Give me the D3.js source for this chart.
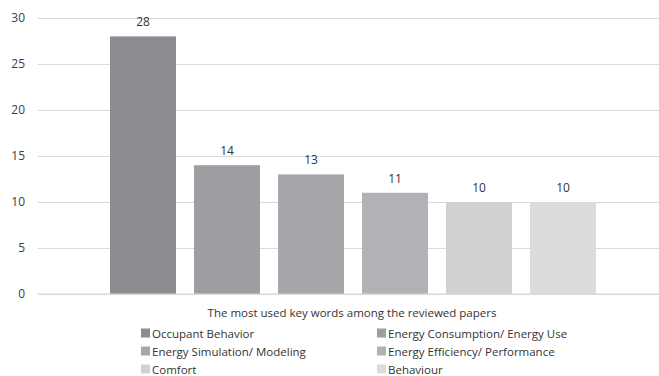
<!DOCTYPE html>
<html>
<head>
<meta charset="utf-8">
<script src="https://cdn.jsdelivr.net/npm/d3@7"></script>
<style>
  body { margin: 0; background: #fff; }
  text { font-family: "Open Sans", "Noto Sans", sans-serif; fill: #404040; }
</style>
</head>
<body>
<div id="chart"></div>
<script>
// * Data
var keywords = ["Occupant Behavior", "Energy Consumption/ Energy Use", "Energy Simulation/ Modeling",
  "Energy Efficiency/ Performance", "Comfort", "Behaviour"];
var counts = [28, 14, 13, 11, 10, 10];
var yTicks = [0, 5, 10, 15, 20, 25, 30];
var barColors = ["#8b8c90", "#9d9ea2", "#a6a7aa", "#b1b2b5", "#d0d1d3", "#dbdcde"];

var width = 659, height = 376;

var svg = d3.select("#chart").append("svg")
  .attr("width", width)
  .attr("height", height);

// * scales
var x = d3.scaleBand().domain(keywords).range([101, 605])
  .paddingInner(18 / 84).paddingOuter(9 / 84);
var y = d3.scaleLinear().domain([0, 30]).range([294, 18]);
var color = d3.scaleOrdinal().domain(keywords).range(barColors);

// * gridlines + y labels
var yAxis = svg.append("g")
  .attr("transform", "translate(38,0)")
  .call(d3.axisLeft(y).tickValues(yTicks).tickSize(-(width - 38)).tickPadding(13));
yAxis.select(".domain").remove();
yAxis.selectAll(".tick line").attr("stroke", "#d9d9d9");
yAxis.selectAll(".tick text").attr("font-size", 12).attr("fill", "#333")
  .style("font-family", "'Open Sans', sans-serif");

// * bars
var data = keywords.map(function (k, i) { return { key: k, value: counts[i] }; });

svg.selectAll(".bar").data(data).enter().append("rect")
  .attr("class", "bar")
  .attr("x", function (d) { return x(d.key); })
  .attr("width", x.bandwidth())
  .attr("y", function (d) { return y(d.value); })
  .attr("height", function (d) { return y(0) - y(d.value); })
  .attr("fill", function (d) { return color(d.key); });

// baseline on top of bars
svg.append("line")
  .attr("x1", 38).attr("x2", width)
  .attr("y1", y(0)).attr("y2", y(0))
  .attr("stroke", "#d9d9d9");

// * value labels
svg.selectAll(".val").data(data).enter().append("text")
  .attr("class", "val")
  .attr("x", function (d) { return x(d.key) + x.bandwidth() / 2; })
  .attr("y", function (d) { return y(d.value) - 10; })
  .attr("text-anchor", "middle")
  .attr("font-size", 12)
  .style("fill", "#333")
  .text(function (d) { return d.value; });

// * axis title
svg.append("text")
  .attr("x", 352).attr("y", 317)
  .attr("text-anchor", "middle")
  .attr("font-size", 11.5)
  .style("fill", "#333")
  .text("The most used key words among the reviewed papers");

// * legend
var legend = svg.selectAll(".legend").data(data).enter().append("g")
  .attr("class", "legend")
  .attr("transform", function (d, i) {
    var col = i % 2, row = Math.floor(i / 2);
    return "translate(" + (col ? 377 : 141) + "," + (333 + row * 18) + ")";
  });
legend.append("rect")
  .attr("x", 0).attr("y", -4.5)
  .attr("width", 9).attr("height", 9)
  .attr("fill", function (d) { return color(d.key); });
legend.append("text")
  .attr("x", 11).attr("y", 4.5)
  .attr("font-size", 11.5)
  .style("fill", "#333")
  .text(function (d) { return d.key; });
</script>
</body>
</html>
